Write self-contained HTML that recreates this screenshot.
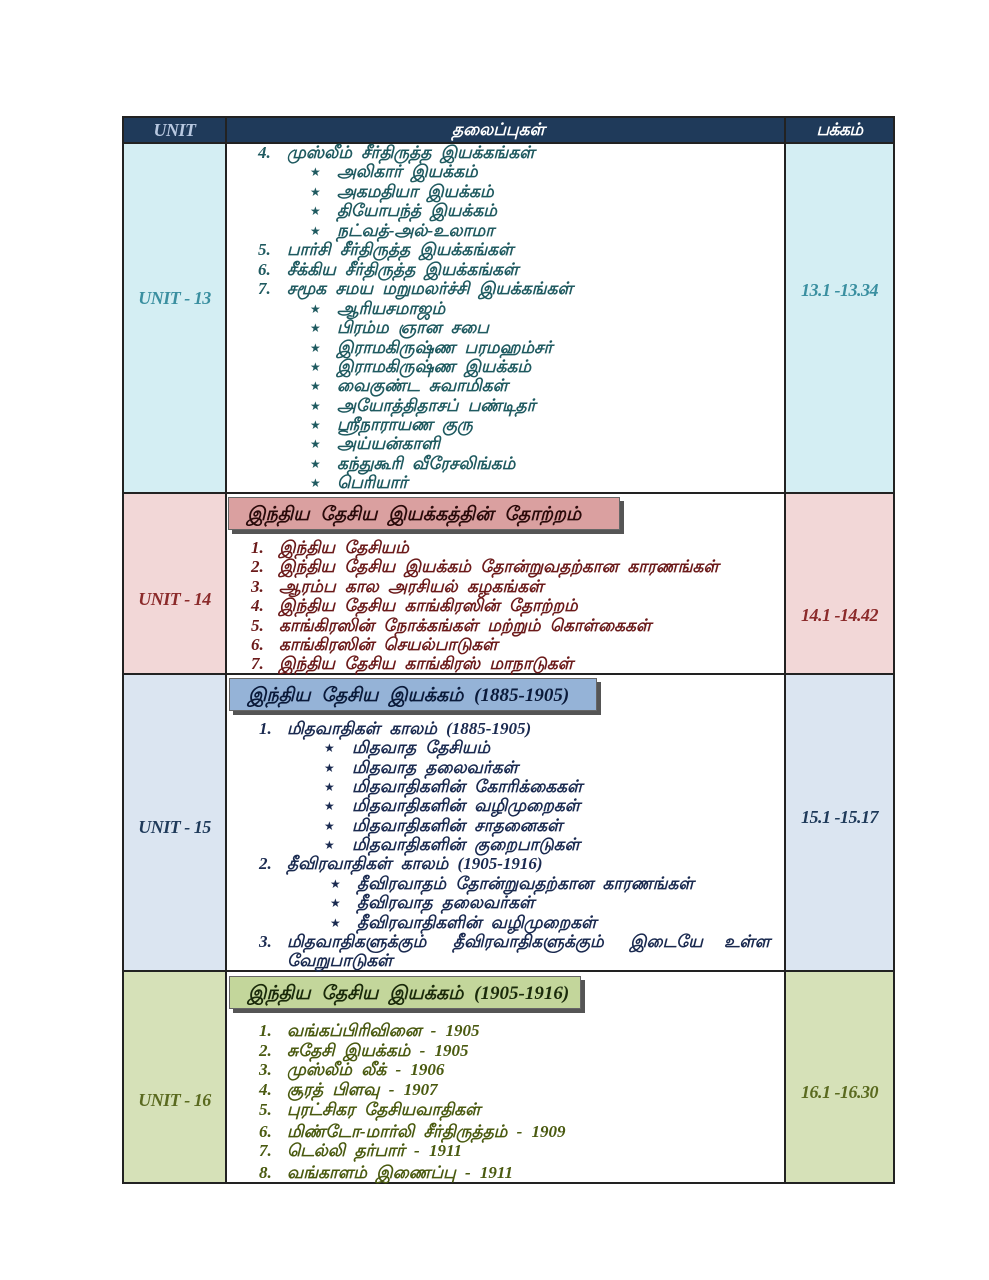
<!DOCTYPE html>
<html><head><meta charset="utf-8"><style>
body{margin:0;width:989px;height:1280px;background:#fff;position:relative;overflow:hidden;font-family:"Liberation Serif","DejaVu Sans",sans-serif}
.b{position:absolute;box-sizing:border-box}
.l{position:absolute;height:20px;line-height:20px;font-size:17px;font-style:italic;font-weight:bold;word-spacing:5px;white-space:nowrap}
.s{font-size:12px}
.u{position:absolute;width:103px;text-align:center;font-size:18px;font-style:italic;font-weight:bold;height:24px;line-height:24px;left:123px;letter-spacing:-0.5px}
.p{position:absolute;width:109px;text-align:center;font-size:18px;font-style:italic;font-weight:bold;height:24px;line-height:24px;left:785px;letter-spacing:-0.5px}
.bn{position:absolute;height:33px;line-height:33px;font-size:19px;font-weight:bold;font-style:italic;word-spacing:6px;padding-left:18px;box-sizing:border-box;border:1px solid #666;box-shadow:4px 4px 0 #555}
.t13{color:#1f5a60}.t14{color:#6b1a1a}.t15{color:#1a2a50}.t16{color:#4a5a10}
</style></head><body>
<div class="b" style="left:123px;top:117px;width:771px;height:26px;background:#1f3a5a"></div>
<div class="b" style="left:123px;top:143px;width:103px;height:350px;background:#d4eef3"></div>
<div class="b" style="left:785px;top:143px;width:109px;height:350px;background:#d4eef3"></div>
<div class="b" style="left:123px;top:493px;width:103px;height:181px;background:#f2d7d7"></div>
<div class="b" style="left:785px;top:493px;width:109px;height:181px;background:#f2d7d7"></div>
<div class="b" style="left:123px;top:674px;width:103px;height:297px;background:#dbe5f1"></div>
<div class="b" style="left:785px;top:674px;width:109px;height:297px;background:#dbe5f1"></div>
<div class="b" style="left:123px;top:971px;width:103px;height:212px;background:#d6e1b8"></div>
<div class="b" style="left:785px;top:971px;width:109px;height:212px;background:#d6e1b8"></div>
<div class="b" style="left:122px;top:116px;width:773px;height:1068px;border:2px solid #222"></div>
<div class="b" style="left:225px;top:117px;width:2px;height:1066px;background:#222"></div>
<div class="b" style="left:784px;top:117px;width:2px;height:1066px;background:#222"></div>
<div class="b" style="left:123px;top:142px;width:771px;height:2px;background:#222"></div>
<div class="b" style="left:123px;top:492px;width:771px;height:2px;background:#222"></div>
<div class="b" style="left:123px;top:673px;width:771px;height:2px;background:#222"></div>
<div class="b" style="left:123px;top:970px;width:771px;height:2px;background:#222"></div>
<div class="u" style="top:118px;color:#b8c8e0">UNIT</div>
<div class="l" style="left:452px;top:120px;color:#fff;font-size:17px">தலைப்புகள்</div>
<div class="p" style="top:118px;color:#fff;font-size:17px">பக்கம்</div>
<div class="u" style="top:286px;color:#3a8fa0">UNIT - 13</div>
<div class="p" style="top:278px;color:#3a8fa0">13.1 -13.34</div>
<div class="u" style="top:587px;color:#8b2a2a">UNIT - 14</div>
<div class="p" style="top:603px;color:#8b2a2a">14.1 -14.42</div>
<div class="u" style="top:815px;color:#1f3a5a">UNIT - 15</div>
<div class="p" style="top:805px;color:#1f3a5a">15.1 -15.17</div>
<div class="u" style="top:1088px;color:#5a6a1f">UNIT - 16</div>
<div class="p" style="top:1080px;color:#5a6a1f">16.1 -16.30</div>
<div class="t13">
<div class="l" style="left:258px;top:143px">4.</div><div class="l" style="left:287px;top:143px">முஸ்லீம் சீர்திருத்த இயக்கங்கள்</div>
<div class="l s" style="left:310px;top:162px">★</div><div class="l" style="left:337px;top:162px">அலிகார் இயக்கம்</div>
<div class="l s" style="left:310px;top:182px">★</div><div class="l" style="left:337px;top:182px">அகமதியா இயக்கம்</div>
<div class="l s" style="left:310px;top:201px">★</div><div class="l" style="left:337px;top:201px">தியோபந்த் இயக்கம்</div>
<div class="l s" style="left:310px;top:221px">★</div><div class="l" style="left:337px;top:221px">நட்வத்-அல்-உலாமா</div>
<div class="l" style="left:258px;top:240px">5.</div><div class="l" style="left:287px;top:240px">பார்சி சீர்திருத்த இயக்கங்கள்</div>
<div class="l" style="left:258px;top:260px">6.</div><div class="l" style="left:287px;top:260px">சீக்கிய சீர்திருத்த இயக்கங்கள்</div>
<div class="l" style="left:258px;top:279px">7.</div><div class="l" style="left:287px;top:279px">சமூக சமய மறுமலர்ச்சி இயக்கங்கள்</div>
<div class="l s" style="left:310px;top:299px">★</div><div class="l" style="left:337px;top:299px">ஆரியசமாஜம்</div>
<div class="l s" style="left:310px;top:318px">★</div><div class="l" style="left:337px;top:318px">பிரம்ம ஞான சபை</div>
<div class="l s" style="left:310px;top:338px">★</div><div class="l" style="left:337px;top:338px">இராமகிருஷ்ண பரமஹம்சர்</div>
<div class="l s" style="left:310px;top:357px">★</div><div class="l" style="left:337px;top:357px">இராமகிருஷ்ண இயக்கம்</div>
<div class="l s" style="left:310px;top:376px">★</div><div class="l" style="left:337px;top:376px">வைகுண்ட சுவாமிகள்</div>
<div class="l s" style="left:310px;top:396px">★</div><div class="l" style="left:337px;top:396px">அயோத்திதாசப் பண்டிதர்</div>
<div class="l s" style="left:310px;top:415px">★</div><div class="l" style="left:337px;top:415px">ஸ்ரீநாராயண குரு</div>
<div class="l s" style="left:310px;top:434px">★</div><div class="l" style="left:337px;top:434px">அய்யன்காளி</div>
<div class="l s" style="left:310px;top:454px">★</div><div class="l" style="left:337px;top:454px">கந்துகூரி வீரேசலிங்கம்</div>
<div class="l s" style="left:310px;top:473px">★</div><div class="l" style="left:337px;top:473px">பெரியார்</div>
</div>
<div class="bn" style="left:228px;top:497px;width:392px;background:#daa0a0;color:#2a0a0a">இந்திய தேசிய இயக்கத்தின் தோற்றம்</div>
<div class="t14">
<div class="l" style="left:251px;top:538px">1.</div><div class="l" style="left:279px;top:538px">இந்திய தேசியம்</div>
<div class="l" style="left:251px;top:557px">2.</div><div class="l" style="left:279px;top:557px">இந்திய தேசிய இயக்கம் தோன்றுவதற்கான காரணங்கள்</div>
<div class="l" style="left:251px;top:577px">3.</div><div class="l" style="left:279px;top:577px">ஆரம்ப கால அரசியல் கழகங்கள்</div>
<div class="l" style="left:251px;top:596px">4.</div><div class="l" style="left:279px;top:596px">இந்திய தேசிய காங்கிரஸின் தோற்றம்</div>
<div class="l" style="left:251px;top:616px">5.</div><div class="l" style="left:279px;top:616px">காங்கிரஸின் நோக்கங்கள் மற்றும் கொள்கைகள்</div>
<div class="l" style="left:251px;top:635px">6.</div><div class="l" style="left:279px;top:635px">காங்கிரஸின் செயல்பாடுகள்</div>
<div class="l" style="left:251px;top:654px">7.</div><div class="l" style="left:279px;top:654px">இந்திய தேசிய காங்கிரஸ் மாநாடுகள்</div>
</div>
<div class="bn" style="left:229px;top:678px;width:368px;background:#95b3d7;color:#0a1a3a">இந்திய தேசிய இயக்கம் (1885-1905)</div>
<div class="t15">
<div class="l" style="left:259px;top:719px">1.</div><div class="l" style="left:287px;top:719px">மிதவாதிகள் காலம் (1885-1905)</div>
<div class="l s" style="left:324px;top:738px">★</div><div class="l" style="left:352px;top:738px">மிதவாத தேசியம்</div>
<div class="l s" style="left:324px;top:758px">★</div><div class="l" style="left:352px;top:758px">மிதவாத தலைவர்கள்</div>
<div class="l s" style="left:324px;top:777px">★</div><div class="l" style="left:352px;top:777px">மிதவாதிகளின் கோரிக்கைகள்</div>
<div class="l s" style="left:324px;top:796px">★</div><div class="l" style="left:352px;top:796px">மிதவாதிகளின் வழிமுறைகள்</div>
<div class="l s" style="left:324px;top:816px">★</div><div class="l" style="left:352px;top:816px">மிதவாதிகளின் சாதனைகள்</div>
<div class="l s" style="left:324px;top:835px">★</div><div class="l" style="left:352px;top:835px">மிதவாதிகளின் குறைபாடுகள்</div>
<div class="l" style="left:259px;top:854px">2.</div><div class="l" style="left:287px;top:854px">தீவிரவாதிகள் காலம் (1905-1916)</div>
<div class="l s" style="left:330px;top:874px">★</div><div class="l" style="left:357px;top:874px">தீவிரவாதம் தோன்றுவதற்கான காரணங்கள்</div>
<div class="l s" style="left:330px;top:893px">★</div><div class="l" style="left:357px;top:893px">தீவிரவாத தலைவர்கள்</div>
<div class="l s" style="left:330px;top:913px">★</div><div class="l" style="left:357px;top:913px">தீவிரவாதிகளின் வழிமுறைகள்</div>
<div class="l" style="left:259px;top:932px">3.</div><div class="l" style="left:287px;top:932px">மிதவாதிகளுக்கும்</div>
<div class="l" style="left:453px;top:932px">தீவிரவாதிகளுக்கும்</div>
<div class="l" style="left:630px;top:932px">இடையே</div>
<div class="l" style="left:724px;top:932px">உள்ள</div>
<div class="l" style="left:287px;top:951px">வேறுபாடுகள்</div>
</div>
<div class="bn" style="left:229px;top:976px;width:352px;background:#c3d69b;color:#1a2a0a">இந்திய தேசிய இயக்கம் (1905-1916)</div>
<div class="t16">
<div class="l" style="left:259px;top:1021px">1.</div><div class="l" style="left:287px;top:1021px">வங்கப்பிரிவினை - 1905</div>
<div class="l" style="left:259px;top:1041px">2.</div><div class="l" style="left:287px;top:1041px">சுதேசி இயக்கம் - 1905</div>
<div class="l" style="left:259px;top:1060px">3.</div><div class="l" style="left:287px;top:1060px">முஸ்லீம் லீக் - 1906</div>
<div class="l" style="left:259px;top:1080px">4.</div><div class="l" style="left:287px;top:1080px">சூரத் பிளவு - 1907</div>
<div class="l" style="left:259px;top:1100px">5.</div><div class="l" style="left:287px;top:1100px">புரட்சிகர தேசியவாதிகள்</div>
<div class="l" style="left:259px;top:1122px">6.</div><div class="l" style="left:287px;top:1122px">மிண்டோ-மார்லி சீர்திருத்தம் - 1909</div>
<div class="l" style="left:259px;top:1141px">7.</div><div class="l" style="left:287px;top:1141px">டெல்லி தர்பார் - 1911</div>
<div class="l" style="left:259px;top:1163px">8.</div><div class="l" style="left:287px;top:1163px">வங்காளம் இணைப்பு - 1911</div>
</div>
</body></html>
